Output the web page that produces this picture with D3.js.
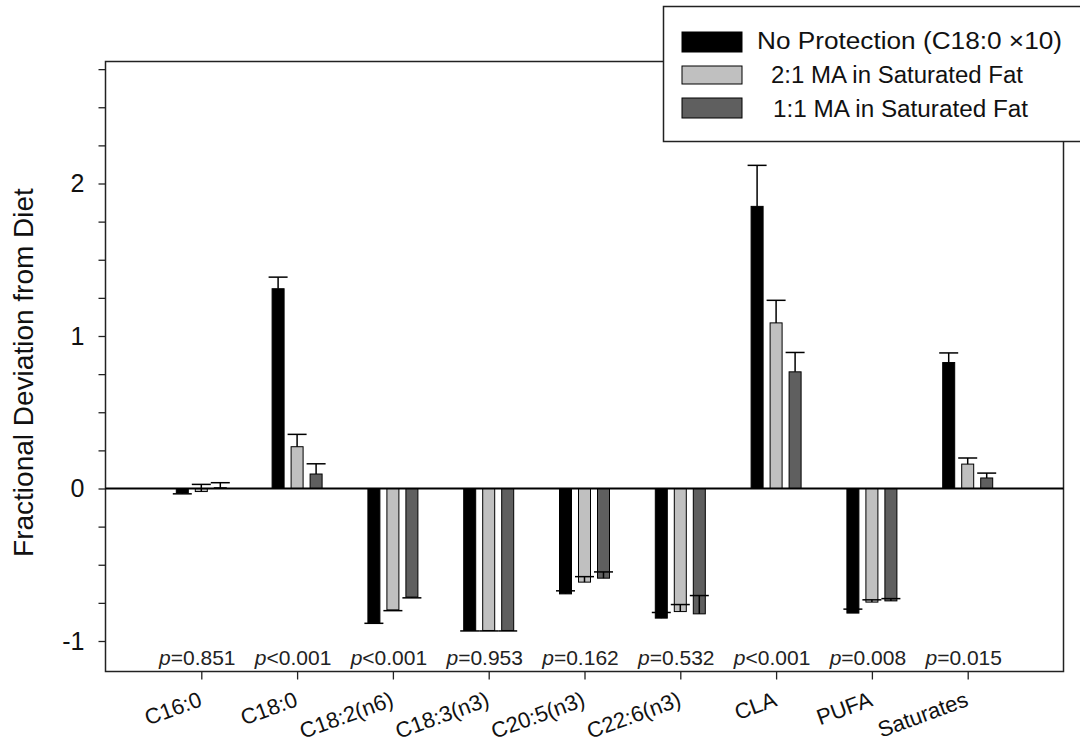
<!DOCTYPE html>
<html>
<head>
<meta charset="utf-8">
<script src="https://cdn.jsdelivr.net/npm/d3@7"></script>
<style>
  body { margin: 0; background: #fff; }
  text { font-family: "Liberation Sans", Arial, sans-serif; }
</style>
</head>
<body>
<div id="wrapper"></div>
<script>
// values
const categories = ["C16:0", "C18:0", "C18:2(n6)", "C18:3(n3)", "C20:5(n3)", "C22:6(n3)", "CLA", "PUFA", "Saturates"];
const seriesNames = ["No Protection (C18:0 \u00d710)", "2:1 MA in Saturated Fat", "1:1 MA in Saturated Fat"];

// error values are signed: positive = bar drawn upward from the bar end
const noProtection    = [-0.03, 1.31, -0.879, -0.931, -0.691, -0.85, 1.85, -0.817, 0.826];
const noProtectionErr = [-0.005, 0.076, -0.005, -0.003, 0.02, 0.037, 0.269, 0.026, 0.063];
const ma21            = [-0.02, 0.274, -0.796, -0.931, -0.614, -0.807, 1.086, -0.745, 0.16];
const ma21Err         = [0.047, 0.081, -0.005, -0.003, 0.036, 0.046, 0.148, 0.015, 0.04];
const ma11            = [0.005, 0.095, -0.712, -0.931, -0.588, -0.822, 0.765, -0.737, 0.069];
const ma11Err         = [0.033, 0.067, -0.005, -0.003, 0.041, 0.12, 0.127, 0.015, 0.032];

const pSigns  = ["=", "<", "<", "=", "=", "=", "<", "=", "="];
const pValues = ["0.851", "0.001", "0.001", "0.953", "0.162", "0.532", "0.001", "0.008", "0.015"];

const yTicks = d3.range(-1, 2.8, 0.25);

const colors = ["#000000", "#c0c0c0", "#5f5f5f"];
const seriesValues = [noProtection, ma21, ma11];
const seriesErrs = [noProtectionErr, ma21Err, ma11Err];

const width = 1080;
const height = 743;
const frame = { left: 105.5, right: 1063.5, top: 61.5, bottom: 671.5 };

const svg = d3.select("#wrapper")
  .append("svg")
  .attr("width", width)
  .attr("height", height);

const xScale = d3.scalePoint()
  .domain(categories)
  .range([frame.left, frame.right])
  .padding(1);

const subScale = d3.scaleBand()
  .domain(d3.range(seriesNames.length))
  .range([-25, 25])
  .paddingInner(7 / 19)
  .paddingOuter(0);

const yScale = d3.scaleLinear()
  .domain([-1.2, 2.8])
  .range([frame.bottom, frame.top]);

// frame
svg.append("rect")
  .attr("x", frame.left)
  .attr("y", frame.top)
  .attr("width", frame.right - frame.left)
  .attr("height", frame.bottom - frame.top)
  .attr("fill", "none")
  .attr("stroke", "#222")
  .attr("stroke-width", 1.5);

// y axis
const yAxis = svg.append("g")
  .attr("transform", `translate(${frame.left},0)`)
  .call(d3.axisLeft(yScale)
    .tickValues(yTicks)
    .tickSize(7)
    .tickPadding(14)
    .tickFormat((d) => (Number.isInteger(d) ? String(d) : "")));
yAxis.select(".domain").remove();
yAxis.selectAll(".tick line").attr("stroke", "#222").attr("stroke-width", 1.3);
yAxis.selectAll(".tick text")
  .attr("font-size", "25px")
  .attr("font-family", "Liberation Sans, Arial, sans-serif")
  .attr("fill", "#111");

// x axis
const xAxis = svg.append("g")
  .attr("transform", `translate(0,${frame.bottom})`)
  .call(d3.axisBottom(xScale).tickSize(8).tickFormat(""));
xAxis.select(".domain").remove();
xAxis.selectAll(".tick line").attr("stroke", "#222").attr("stroke-width", 1.3);

svg.append("g")
  .selectAll("text")
  .data(categories)
  .join("text")
  .attr("transform", (d) => `translate(${xScale(d) + 2},${frame.bottom + 34}) rotate(-20)`)
  .attr("text-anchor", "end")
  .attr("font-size", "22px")
  .attr("fill", "#111")
  .text((d) => d);

// y title
svg.append("text")
  .attr("transform", `translate(33,${(frame.top + frame.bottom) / 2 + 6}) rotate(-90)`)
  .attr("text-anchor", "middle")
  .attr("font-size", "28px")
  .attr("fill", "#111")
  .text("Fractional Deviation from Diet");

// bars
const barData = [];
seriesValues.forEach((vals, s) => {
  vals.forEach((v, i) => {
    barData.push({ s, cat: categories[i], value: v, err: seriesErrs[s][i] });
  });
});

svg.append("g")
  .selectAll("rect")
  .data(barData)
  .join("rect")
  .attr("x", (d) => xScale(d.cat) + subScale(d.s))
  .attr("y", (d) => Math.min(yScale(d.value), yScale(0)))
  .attr("width", subScale.bandwidth())
  .attr("height", (d) => Math.abs(yScale(d.value) - yScale(0)))
  .attr("fill", (d) => colors[d.s])
  .attr("stroke", "#000")
  .attr("stroke-width", 1);

// error bars
const errG = svg.append("g")
  .attr("stroke", "#000")
  .attr("stroke-width", 1.5);

errG.selectAll(".stem")
  .data(barData)
  .join("line")
  .attr("class", "stem")
  .attr("x1", (d) => xScale(d.cat) + subScale(d.s) + subScale.bandwidth() / 2)
  .attr("x2", (d) => xScale(d.cat) + subScale(d.s) + subScale.bandwidth() / 2)
  .attr("y1", (d) => yScale(d.value))
  .attr("y2", (d) => yScale(d.value + d.err));

errG.selectAll(".cap")
  .data(barData)
  .join("line")
  .attr("class", "cap")
  .attr("x1", (d) => xScale(d.cat) + subScale(d.s) + subScale.bandwidth() / 2 - 9.5)
  .attr("x2", (d) => xScale(d.cat) + subScale(d.s) + subScale.bandwidth() / 2 + 9.5)
  .attr("y1", (d) => yScale(d.value + d.err))
  .attr("y2", (d) => yScale(d.value + d.err));

// zero line
svg.append("line")
  .attr("x1", frame.left)
  .attr("x2", frame.right)
  .attr("y1", yScale(0))
  .attr("y2", yScale(0))
  .attr("stroke", "#000")
  .attr("stroke-width", 2);

// p values
const pText = svg.append("g")
  .selectAll("text")
  .data(categories)
  .join("text")
  .attr("x", (d) => xScale(d) - 4)
  .attr("y", frame.bottom - 7)
  .attr("text-anchor", "middle")
  .attr("font-size", "21px")
  .attr("fill", "#222");
pText.append("tspan").attr("font-style", "italic").text("p");
pText.append("tspan").text((d, i) => pSigns[i] + pValues[i]);

// legend
const legend = svg.append("g");
legend.append("rect")
  .attr("x", 663.5)
  .attr("y", 6.5)
  .attr("width", 430)
  .attr("height", 135)
  .attr("fill", "#fff")
  .attr("stroke", "#222")
  .attr("stroke-width", 1.5);

const legendRows = [
  { top: 32, h: 20, textX: 757, base: 49, len: 305 },
  { top: 66, h: 18, textX: 771, base: 83, len: 252 },
  { top: 98, h: 20, textX: 773, base: 117, len: 255 },
];

legend.selectAll(".swatch")
  .data(seriesNames)
  .join("rect")
  .attr("class", "swatch")
  .attr("x", 682)
  .attr("y", (d, i) => legendRows[i].top)
  .attr("width", 60)
  .attr("height", (d, i) => legendRows[i].h)
  .attr("fill", (d, i) => colors[i])
  .attr("stroke", "#000")
  .attr("stroke-width", 1);

legend.selectAll(".label")
  .data(seriesNames)
  .join("text")
  .attr("class", "label")
  .attr("x", (d, i) => legendRows[i].textX)
  .attr("y", (d, i) => legendRows[i].base)
  .attr("font-size", "23px")
  .attr("textLength", (d, i) => legendRows[i].len)
  .attr("lengthAdjust", "spacingAndGlyphs")
  .attr("fill", "#111")
  .text((d) => d);
</script>
</body>
</html>
